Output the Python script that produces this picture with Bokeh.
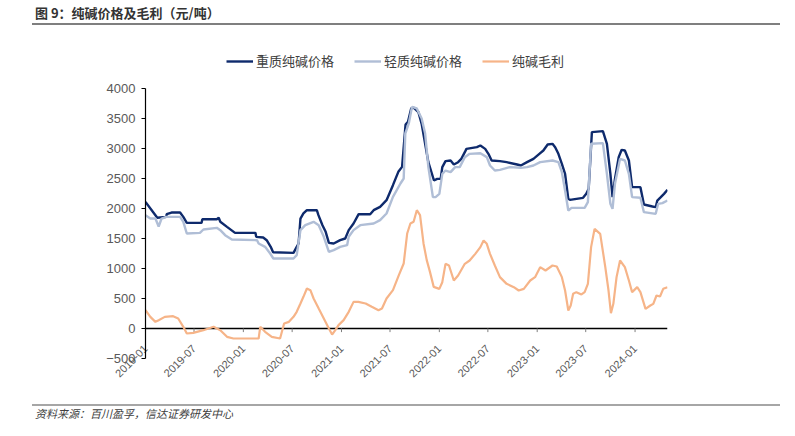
import math
import pandas as pd
from bokeh.plotting import figure
from bokeh.layouts import column
from bokeh.models import (Range1d, FixedTicker, Div,
                          Legend, LegendItem, ColumnDataSource)
from bokeh.embed import file_html
from bokeh.resources import INLINE

# ---------------- data ----------------
heavy_dates = ["2019-01-01","2019-02-14","2019-03-20","2019-03-21","2019-04-08","2019-05-10","2019-05-22","2019-06-04","2019-07-29","2019-08-01",
               "2019-09-24","2019-10-01","2019-10-07","2019-11-01","2019-12-01","2020-02-15","2020-02-18","2020-03-15","2020-03-28","2020-04-12",
               "2020-04-21","2020-07-06","2020-07-18","2020-07-25","2020-08-01","2020-08-12","2020-08-25","2020-10-01","2020-10-07","2020-10-22",
               "2020-11-03","2020-11-15","2020-12-03","2020-12-27","2021-01-15","2021-01-28","2021-02-15","2021-03-06","2021-04-18","2021-05-01",
               "2021-05-25","2021-06-18","2021-07-12","2021-08-01","2021-08-15","2021-08-28","2021-09-06","2021-09-18","2021-09-27","2021-10-15",
               "2021-10-27","2021-11-09","2021-11-21","2021-12-12","2021-12-24","2022-01-06","2022-01-12","2022-01-24","2022-02-12","2022-02-24",
               "2022-03-12","2022-03-24","2022-04-06","2022-04-12","2022-05-21","2022-06-03","2022-06-21","2022-07-03","2022-07-15","2022-08-15",
               "2022-09-09","2022-10-18","2022-11-01","2022-11-24","2022-12-18","2023-01-09","2023-01-24","2023-02-09","2023-02-27","2023-03-09",
               "2023-03-21","2023-04-03","2023-04-15","2023-04-27","2023-05-03","2023-06-21","2023-07-03","2023-07-12","2023-07-24","2023-09-03",
               "2023-09-18","2023-10-01","2023-10-09","2023-10-18","2023-11-01","2023-11-12","2023-11-24","2023-12-09","2023-12-21","2024-01-21",
               "2024-02-03","2024-03-06","2024-03-18","2024-03-24","2024-04-06","2024-04-18","2024-05-01"]
heavy_price = [2110,1845,1860,1905,1933,1933,1860,1760,1760,1820,
               1822,1845,1778,1694,1594,1594,1528,1516,1472,1361,
               1270,1261,1361,1417,1833,1917,1972,1972,1889,1722,
               1611,1428,1417,1472,1500,1639,1750,1905,1905,1972,
               2028,2139,2389,2611,2694,3400,3444,3667,3683,3606,
               3411,3078,2772,2467,2494,2494,2689,2789,2800,2733,
               2772,2828,2939,2994,3022,3050,2994,2911,2800,2789,
               2772,2733,2717,2772,2828,2911,2967,3067,3078,3022,
               2911,2744,2578,2161,2144,2178,2244,2328,3272,3289,
               3078,2578,2189,2494,2856,2978,2967,2800,2356,2356,
               2067,2033,2022,2133,2189,2244,2311]

light_dates = ["2019-01-01","2019-01-19","2019-02-07","2019-02-19","2019-03-02","2019-03-20","2019-05-10","2019-05-22","2019-06-04","2019-07-23",
               "2019-08-05","2019-09-24","2019-10-07","2019-10-25","2019-11-19","2020-02-21","2020-02-27","2020-03-22","2020-04-10","2020-04-22",
               "2020-07-06","2020-07-18","2020-08-01","2020-08-19","2020-09-19","2020-10-08","2020-10-27","2020-11-15","2020-12-03","2020-12-27",
               "2021-01-22","2021-01-28","2021-02-15","2021-03-12","2021-05-01","2021-05-25","2021-06-18","2021-07-12","2021-08-09","2021-08-21",
               "2021-08-27","2021-09-09","2021-09-21","2021-10-09","2021-10-27","2021-11-09","2021-11-21","2021-12-08","2021-12-18","2022-01-01",
               "2022-01-12","2022-01-24","2022-02-12","2022-03-01","2022-03-18","2022-04-06","2022-04-24","2022-06-03","2022-06-27","2022-07-09",
               "2022-07-27","2022-08-15","2022-09-21","2022-11-01","2022-11-24","2022-12-18","2023-01-12","2023-02-27","2023-03-21","2023-04-03",
               "2023-04-15","2023-04-27","2023-05-09","2023-06-27","2023-07-09","2023-07-21","2023-09-03","2023-09-18","2023-10-01","2023-10-09",
               "2023-10-18","2023-11-06","2023-11-24","2023-12-09","2023-12-21","2024-01-21","2024-02-03","2024-03-18","2024-03-27","2024-04-12",
               "2024-05-01"]
light_price = [1889,1833,1833,1700,1833,1861,1861,1778,1583,1594,
               1650,1678,1639,1556,1483,1472,1417,1361,1250,1167,
               1167,1222,1639,1722,1778,1722,1528,1278,1306,1361,
               1389,1528,1639,1722,1750,1806,1917,2194,2417,2500,
               3250,3417,3694,3667,3500,3250,2694,2189,2189,2244,
               2578,2633,2606,2689,2689,2856,2911,2922,2856,2717,
               2633,2644,2689,2678,2689,2717,2772,2800,2772,2606,
               2300,1967,2011,2011,2106,3078,3089,2578,2078,1994,
               2411,2828,2800,2578,2189,2178,1939,1911,2078,2089,
               2133]

margin_dates = ["2019-01-01","2019-01-19","2019-02-07","2019-02-19","2019-03-14","2019-04-14","2019-05-03","2019-05-22","2019-06-04","2019-06-28",
                "2019-08-05","2019-09-12","2019-10-07","2019-11-01","2019-11-25","2020-02-27","2020-03-04","2020-03-22","2020-04-16","2020-05-17",
                "2020-06-01","2020-06-19","2020-07-06","2020-07-18","2020-08-01","2020-08-12","2020-08-25","2020-09-07","2020-09-19","2020-10-08",
                "2020-10-27","2020-11-15","2020-11-27","2020-12-09","2020-12-21","2021-01-09","2021-01-28","2021-02-15","2021-03-05","2021-04-01",
                "2021-04-24","2021-05-19","2021-06-01","2021-06-18","2021-07-12","2021-08-03","2021-08-21","2021-09-03","2021-09-15","2021-09-27",
                "2021-10-09","2021-10-21","2021-11-03","2021-11-15","2021-11-27","2021-12-11","2022-01-01","2022-01-12","2022-01-24","2022-02-06",
                "2022-02-24","2022-03-12","2022-04-06","2022-04-24","2022-05-15","2022-06-03","2022-06-15","2022-06-27","2022-07-09","2022-07-27",
                "2022-08-15","2022-09-09","2022-10-06","2022-10-24","2022-11-12","2022-12-06","2022-12-24","2023-01-12","2023-02-01","2023-02-27",
                "2023-03-15","2023-04-03","2023-04-15","2023-04-27","2023-05-06","2023-05-15","2023-05-27","2023-06-15","2023-06-27","2023-07-09",
                "2023-07-21","2023-08-03","2023-08-24","2023-09-12","2023-09-24","2023-10-03","2023-10-12","2023-10-24","2023-11-06","2023-11-24",
                "2023-12-09","2023-12-21","2024-01-09","2024-01-21","2024-02-09","2024-02-27","2024-03-09","2024-03-21","2024-04-03","2024-04-15",
                "2024-05-01"]
margin_value = [306,194,111,139,194,206,167,28,-83,-72,
                -28,28,-28,-139,-167,-167,28,-56,-139,-167,
                83,111,194,278,417,528,667,639,500,333,
                167,0,-100,-28,56,139,278,444,444,417,
                361,306,333,500,639,889,1083,1583,1750,1778,
                1972,1889,1417,1139,944,694,661,772,1078,1050,
                800,883,1078,1133,1244,1356,1467,1411,1244,1050,
                856,744,689,633,661,800,856,1022,967,1050,
                1033,856,633,300,383,578,606,567,606,744,
                1356,1661,1578,1022,633,256,411,856,1133,1022,
                800,606,689,606,328,383,411,550,533,661,
                689]

tick_dates = ["2019-01-01","2019-07-01","2020-01-01","2020-07-01","2021-01-01","2021-07-01",
              "2022-01-01","2022-07-01","2023-01-01","2023-07-01","2024-01-01"]
tick_labels = ["2019-01","2019-07","2020-01","2020-07","2021-01","2021-07",
               "2022-01","2022-07","2023-01","2023-07","2024-01"]
y_ticks = [-500, 0, 500, 1000, 1500, 2000, 2500, 3000, 3500, 4000]
axis_start, axis_end = "2019-01-01", "2024-05-01"
series_names = ["重质纯碱价格", "轻质纯碱价格", "纯碱毛利"]
title_text = "图 9：纯碱价格及毛利（元/吨）"
source_text = "资料来源：百川盈孚，信达证券研发中心"

# ---------------- styling ----------------
C_HEAVY = "#0E2A6C"
C_LIGHT = "#B0BED6"
C_MARGIN = "#F6B488"
CJK = "Noto Sans CJK SC"
LAT = "Liberation Sans"

def ts(s):
    return pd.Timestamp(s)

def ms(t):
    return t.value // 10**6

W, H = 795, 436
TOP_H, FOOT_H = 28, 32
FIG_H = H - TOP_H - FOOT_H            # 376
FL, FR = 145, 667                      # frame left/right (page px)
FT_PAGE, FB_PAGE = 48, 358             # frame top/bottom (page px)
Y_TOP_PAGE = 88                        # page y of the 4000 tick
PX_PER_UNIT = 30 / 500
Y_LO, Y_HI = -500, 4000
y_end = Y_HI + (Y_TOP_PAGE - FT_PAGE) / PX_PER_UNIT   # room above the axis for the legend

title_div = Div(width=W, height=TOP_H, margin=0, text=(
    f'<div style="position:relative;width:{W}px;height:{TOP_H}px;">'
    f'<div style="position:absolute;left:35px;top:4px;font-family:\'{CJK}\';font-size:13px;'
    f'font-weight:bold;color:#333333;white-space:nowrap;line-height:18px;">{title_text}</div>'
    f'<div style="position:absolute;left:32px;top:23px;width:748px;height:2px;background:#7F7F7F;"></div>'
    f'</div>'))

foot_div = Div(width=W, height=FOOT_H, margin=0, text=(
    f'<div style="position:relative;width:{W}px;height:{FOOT_H}px;">'
    f'<div style="position:absolute;left:32px;top:0px;width:748px;height:1.5px;background:#A6A6A6;"></div>'
    f'<div style="position:absolute;left:35px;top:2px;font-family:\'{CJK}\';font-size:11px;'
    f'font-style:italic;color:#404040;white-space:nowrap;line-height:14px;">{source_text}</div>'
    f'</div>'))

p = figure(width=W, height=FIG_H, x_axis_type="datetime", output_backend="svg", toolbar_location=None,
           x_range=Range1d(ts(axis_start), ts(axis_end)), y_range=Range1d(Y_LO, y_end),
           min_border_left=FL, min_border_right=W - FR,
           min_border_top=FT_PAGE - TOP_H, min_border_bottom=TOP_H + FIG_H - FB_PAGE,
           background_fill_color="white", border_fill_color="white", margin=0)
p.outline_line_color = None
p.grid.grid_line_color = None

src_h = ColumnDataSource(dict(x=[ts(d) for d in heavy_dates], y=heavy_price))
src_l = ColumnDataSource(dict(x=[ts(d) for d in light_dates], y=light_price))
src_m = ColumnDataSource(dict(x=[ts(d) for d in margin_dates], y=margin_value))

# horizontal axis line at 0 (Excel axis crosses at 0) and its tick marks
p.segment(x0=[ts(axis_start)], y0=[0], x1=[ts(axis_end)], y1=[0], line_color="#000000", line_width=1.3)
tick_x = [ts(d) for d in tick_dates]
p.segment(x0=tick_x, y0=[0] * len(tick_x), x1=tick_x, y1=[-60] * len(tick_x),
          line_color="#7F7F7F", line_width=1)

r_h = p.line("x", "y", source=src_h, line_color=C_HEAVY, line_width=2.4)
r_l = p.line("x", "y", source=src_l, line_color=C_LIGHT, line_width=2.4)
r_m = p.line("x", "y", source=src_m, line_color=C_MARGIN, line_width=2.2)

# y axis
ya = p.yaxis[0]
ya.ticker = FixedTicker(ticks=y_ticks)
ya.bounds = (Y_LO, Y_HI)
ya.axis_line_color = "#000000"
ya.axis_line_width = 1.2
ya.major_tick_line_color = "#000000"
ya.major_tick_out = 4
ya.major_tick_in = 0
ya.minor_tick_line_color = None
ya.major_label_text_font = LAT
ya.major_label_text_font_size = "13px"
ya.major_label_text_color = "#595959"
ya.major_label_standoff = 6

# x axis (slanted labels only, at the bottom)
label_pos = [ms(t) for t in tick_x]
xa = p.xaxis[0]
xa.ticker = FixedTicker(ticks=label_pos)
xa.major_label_overrides = {v: s for v, s in zip(label_pos, tick_labels)}
xa.axis_line_color = None
xa.major_tick_line_color = None
xa.minor_tick_line_color = None
xa.major_label_orientation = math.pi / 4
xa.major_label_text_font = LAT
xa.major_label_text_font_size = "11px"
xa.major_label_text_color = "#595959"
xa.major_label_standoff = -18

# legend inside the (extended) frame, above the 4000 line
legend = Legend(items=[LegendItem(label=series_names[0], renderers=[r_h]),
                       LegendItem(label=series_names[1], renderers=[r_l]),
                       LegendItem(label=series_names[2], renderers=[r_m])],
                orientation="horizontal", location=(228 - FL - 2, FB_PAGE - 70),
                background_fill_alpha=0, border_line_color=None,
                glyph_width=27, glyph_height=14, label_height=14, label_standoff=3,
                spacing=20, padding=2, margin=0,
                label_text_font=CJK, label_text_font_size="13px", label_text_color="#404040")
p.add_layout(legend)

layout = column(title_div, p, foot_div, spacing=0, margin=0)
open("out.html", "w").write(file_html(layout, INLINE))
